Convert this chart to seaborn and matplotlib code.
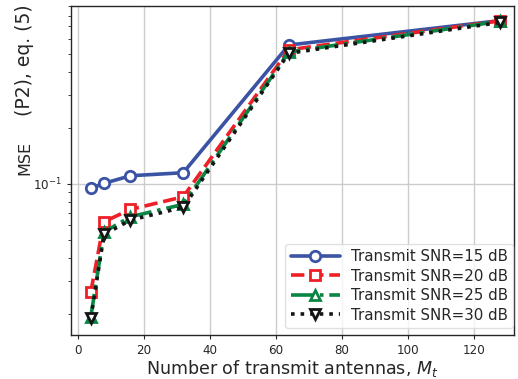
import numpy as np
import pandas as pd
import matplotlib
matplotlib.use("Agg")
import matplotlib.pyplot as plt
import seaborn as sns
from matplotlib.ticker import LogLocator, NullFormatter

antennas = [4, 8, 16, 32, 64, 128]
snr_labels = ["Transmit SNR=15 dB", "Transmit SNR=20 dB",
              "Transmit SNR=25 dB", "Transmit SNR=30 dB"]
mse_15 = [0.0945, 0.1005, 0.1104, 0.1146, 0.556, 0.752]
mse_20 = [0.0263, 0.0625, 0.0728, 0.0851, 0.524, 0.750]
mse_25 = [0.0193, 0.0551, 0.0665, 0.0775, 0.510, 0.745]
mse_30 = [0.0190, 0.0534, 0.0638, 0.0747, 0.502, 0.735]

colors = ["#3B53A4", "#EE1F26", "#0A8544", "#151515"]
styles = ["-", "--", "-.", ":"]
markers = ["o", "s", "^", "v"]

df = pd.DataFrame({
    "Mt": antennas * 4,
    "MSE": mse_15 + mse_20 + mse_25 + mse_30,
    "series": sum([[l] * len(antennas) for l in snr_labels], []),
})

sns.set_style("whitegrid", {"axes.edgecolor": "0.15", "grid.color": "0.8",
                            "xtick.bottom": True, "ytick.left": True})
plt.rcParams["font.family"] = ["DejaVu Sans"]

fig = plt.figure(figsize=(5.18, 3.79), dpi=100)
ax = fig.add_axes([0.1365, 0.116, 0.8555, 0.868])

for lab, c, ls, m in zip(snr_labels, colors, styles, markers):
    sub = df[df.series == lab]
    sns.lineplot(data=sub, x="Mt", y="MSE", ax=ax, color=c, linestyle=ls,
                 marker=m, markersize=7.5, markerfacecolor="white",
                 markeredgecolor=c, markeredgewidth=2.0, linewidth=2.6,
                 label=lab)

ax.set_yscale("log")
ax.set_xlim(-2.1, 132.2)
ax.set_ylim(0.0154, 0.90)
ax.yaxis.set_minor_locator(LogLocator(base=10, subs=np.arange(2, 10)))
ax.yaxis.set_minor_formatter(NullFormatter())
ax.tick_params(axis="both", labelsize=8.6, length=3, width=0.8, color="0.15")
ax.tick_params(axis="y", which="minor", length=2, width=0.6, left=True)
ax.grid(True, which="major", color="0.8", linewidth=1)
ax.grid(False, which="minor")
for s in ax.spines.values():
    s.set_linewidth(1.0)

ax.set_xlabel("Number of transmit antennas, $M_t$", fontsize=12.6, labelpad=1)
ax.set_ylabel("")
fig.text(0.048, 0.584, "MSE", rotation=90, fontsize=11.5, ha="center", va="center")
fig.text(0.048, 0.842, "(P2), eq. (5)", rotation=90, fontsize=13.5, ha="center", va="center")

leg = ax.legend(loc="lower right", fontsize=10.8, frameon=True,
                bbox_to_anchor=(0.9903, 0.1346), bbox_transform=fig.transFigure,
                borderaxespad=0, handlelength=3.3, labelspacing=0.3,
                borderpad=0.35, handletextpad=0.7)
leg.get_frame().set_edgecolor("0.85")

fig.savefig("out.png", dpi=100)
